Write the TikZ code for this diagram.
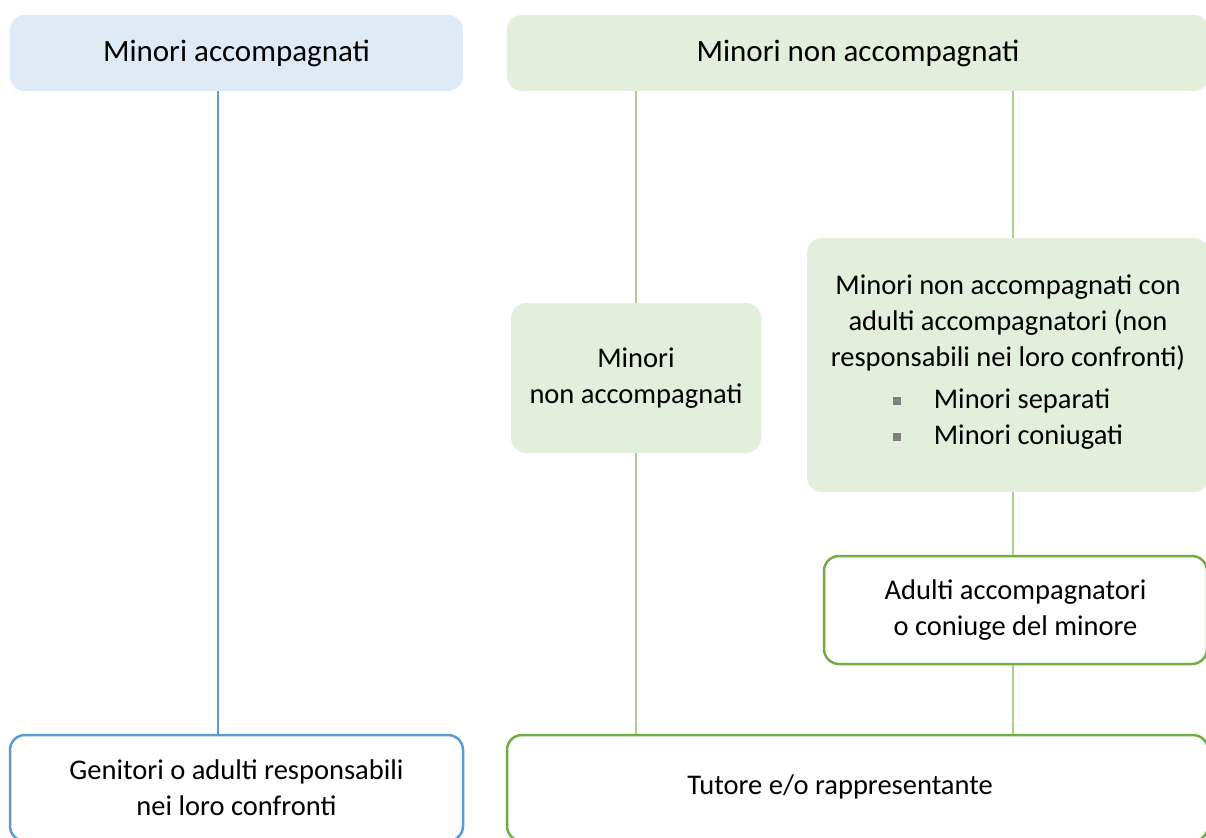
\documentclass[tikz,border=0pt]{standalone}
\usepackage{fontspec}
\setmainfont{Carlito}
\usepackage{tikz}

\definecolor{bluefill}{RGB}{222,234,246}
\definecolor{greenfill}{RGB}{226,239,218}
\definecolor{blueline}{RGB}{91,155,213}
\definecolor{greenline}{RGB}{169,209,142}
\definecolor{greendark}{RGB}{112,173,71}

\begin{document}
\begin{tikzpicture}[ x=1pt, y=-1pt,
										box/.style={rectangle, rounded corners=15pt, inner sep=0pt, align=center,
											font=\fontsize{28.5}{36}\selectfont},
										head/.style={box, font=\fontsize{31}{37}\selectfont},
										soft/.style={box, fill=greenfill},
										leaf/.style={box, fill=white, line width=2.5pt},
										link/.style={line width=2.2pt}]

		\useasboundingbox (0,0) rectangle (1206,837);

		% top row
		\node [head, fill=bluefill, minimum width=453pt, minimum height=76pt] (acc) at (236.5,53) {Minori accompagnati};
		\node [head, fill=greenfill, minimum width=702pt, minimum height=76pt] (nonacc) at (858,53) {Minori non accompagnati};

		% middle
		\node [soft, minimum width=250pt, minimum height=150pt] (solo) at (636,378) {Minori\\non accompagnati};
		\node [soft, minimum width=402pt, minimum height=254pt] (conad) at (1008,365)
			{Minori non accompagnati con\\adulti accompagnatori (non\\responsabili nei loro confronti)\\[12pt]
			\begin{tabular}{@{}l@{\hspace{33pt}}l@{}}
				\textcolor{gray}{\rule[4pt]{8pt}{8pt}} & Minori separati\\
				\textcolor{gray}{\rule[4pt]{8pt}{8pt}} & Minori coniugati
			\end{tabular}};
		\node [leaf, draw=greendark, minimum width=383pt, minimum height=108pt] (adulti) at (1015.5,610) {Adulti accompagnatori\\o coniuge del minore};

		% bottom row
		\node [leaf, draw=blueline, minimum width=453pt, minimum height=106pt] (genitori) at (236.5,788) {Genitori o adulti responsabili\\nei loro confronti};
		\node [leaf, draw=greendark, minimum width=701pt, minimum height=106pt] (tutore) at (857.5,788) {};
		\node [box] (tutoretext) at (840,787) {Tutore e/o rappresentante};

		% connectors
		\draw [link, blueline] (acc.south -| 218,0) -- (genitori.north -| 218,0);
		\draw [link, greenline] (nonacc.south -| solo.north) -- (solo.north);
		\draw [link, greenline] (solo.south) -- (solo.south |- tutore.north);
		\draw [link, greenline] (nonacc.south -| 1013,0) -- (conad.north -| 1013,0);
		\draw [link, greenline] (conad.south -| 1013,0) -- (adulti.north -| 1013,0);
		\draw [link, greenline] (adulti.south -| 1013,0) -- (tutore.north -| 1013,0);

		\end{tikzpicture}
\end{document}
